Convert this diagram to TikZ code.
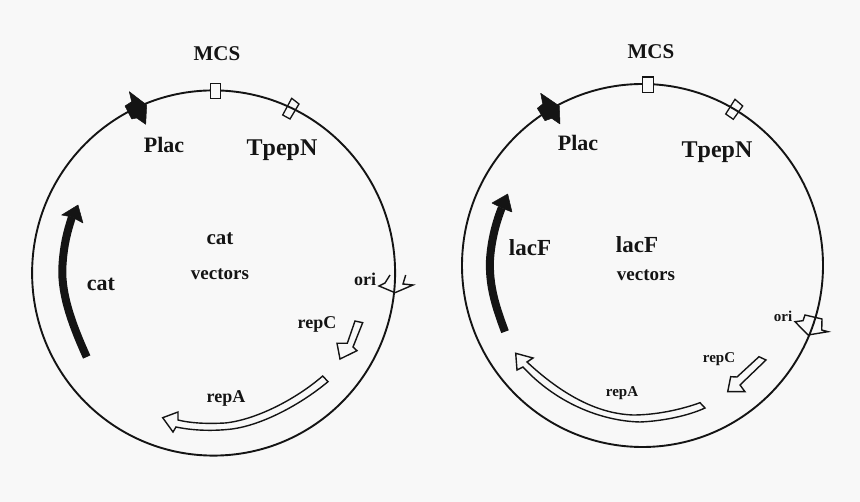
\documentclass[tikz,border=0pt]{standalone}
\usepackage{fontspec}
\setmainfont{Liberation Serif}
\definecolor{bgc}{HTML}{F8F8F8}
\definecolor{ink}{HTML}{141414}
\newcommand{\tfs}[1]{\fontsize{#1}{#1}\bfseries\selectfont}
\tikzset{
  ring/.style={draw=ink,line width=1.9pt},
  openarrow/.style={draw=ink,line width=1.4pt,fill=bgc,line join=miter},
  solidarc/.style={draw=ink,line width=8pt},
  solidhead/.style={fill=ink,draw=ink,line width=0.5pt,line join=round},
  site/.style={draw=ink,line width=1.3pt},
  lbl/.style={anchor=base,inner sep=0pt,text=ink},
}
\begin{document}
\begin{tikzpicture}[x=1pt,y=-1pt]
\fill[bgc] (0,0) rectangle (860,502);
\useasboundingbox (0,0) rectangle (860,502);

% ---------- left plasmid ----------
\draw[ring] (213.6,273) ellipse[x radius=181.5,y radius=182.6];
\draw[site,fill=bgc] (210.3,83.5) rectangle (220.7,98.3);
\draw[site] (291.7,98.3) -- (299,104) -- (290,119) -- (282.7,115) -- cycle;
\fill[solidhead] (129.3,91.7) -- (146.7,105) -- (145.7,124.3) -- (136.7,118) -- (131.7,119) -- (125,106) -- (131.7,101.7) -- cycle;
\draw[solidarc] (86.7,357) .. controls (70,320) and (60,290) .. (62.7,262) .. controls (64,245) and (67,232) .. (72,217);
\fill[solidhead] (78,205) -- (83,223) -- (72,217) -- (61.7,215) -- cycle;
\draw[openarrow] (322.7,376) .. controls (295,400) and (255,420) .. (225,423) .. controls (205,424) and (190,423) .. (178,420)
  -- (178,412) -- (162.7,417.7) -- (173,432) -- (176,427)
  .. controls (195,431) and (215,431) .. (232,429) .. controls (262,425) and (300,405) .. (328,381.7) -- cycle;
\draw[openarrow] (355,321) -- (362.7,322.7) -- (353,347) -- (357,350.7) -- (340,359) -- (337,343.3) -- (347.3,343.3) -- cycle;
\draw[openarrow,fill=none] (390,275) -- (385,283) -- (379,286) -- (395,292.7) -- (413,285) -- (403,284) -- (405.7,275);

\node[lbl,font=\tfs{21}] (mcsL) at (217,61) {MCS};
\node[lbl,font=\tfs{22}] (placL) at (164,153) {Plac};
\node[lbl,font=\tfs{24}] (tpepL) at (282,155.7) {TpepN};
\node[lbl,font=\tfs{21}] (catI) at (220,245) {cat};
\node[lbl,font=\tfs{19}] (vecL) at (220,280) {vectors};
\node[lbl,font=\tfs{22}] (catL) at (101,290.7) {cat};
\node[lbl,font=\tfs{18}] (oriL) at (365,286) {ori};
\node[lbl,font=\tfs{18}] (repCL) at (317,329) {repC};
\node[lbl,font=\tfs{18}] (repAL) at (226,402.7) {repA};

% ---------- right plasmid ----------
\draw[ring] (642.5,265.5) ellipse[x radius=180.5,y radius=181.5];
\draw[site,fill=bgc] (642.5,77) rectangle (653.3,92.3);
\draw[site] (735,99.3) -- (742.7,106) -- (733.3,119.3) -- (725.7,114) -- cycle;
\fill[solidhead] (540.7,93.3) -- (559.3,106) -- (560,124) -- (551.7,118.3) -- (545,120.7) -- (537.3,108.3) -- (542.7,104) -- cycle;
\draw[solidarc] (505,331.7) .. controls (495,305) and (489,285) .. (490,260) .. controls (491,243) and (495,225) .. (501.7,208);
\fill[solidhead] (507.7,194) -- (512,212) -- (501.7,208) -- (492,203) -- cycle;
\draw[openarrow] (700,402.7) .. controls (680,410) and (655,415) .. (633,415) .. controls (605,414) and (570,402) .. (527,362)
  -- (533,358) -- (515.7,353.3) -- (517,370) -- (523,367)
  .. controls (555,402) and (600,421) .. (640,422) .. controls (665,421) and (690,415) .. (705,408) -- cycle;
\draw[openarrow] (759,356.7) -- (766,360) -- (740,385) -- (745,391.7) -- (727.7,391.7) -- (730.7,376.7) -- (737,377) -- cycle;
\draw[openarrow,fill=none] (805,315) -- (803,320.7) -- (795,321.7) -- (808,335) -- (828,331.7) -- (821.7,330) -- (822,319) -- cycle;

\node[lbl,font=\tfs{21}] (mcsR) at (651,59) {MCS};
\node[lbl,font=\tfs{22}] (placR) at (578,150.7) {Plac};
\node[lbl,font=\tfs{24}] (tpepR) at (717,158) {TpepN};
\node[lbl,font=\tfs{23}] (lacI) at (637,253) {lacF};
\node[lbl,font=\tfs{19}] (vecR) at (646,281) {vectors};
\node[lbl,font=\tfs{23}] (lacL) at (530,256) {lacF};
\node[lbl,font=\tfs{15}] (oriR) at (783,321.7) {ori};
\node[lbl,font=\tfs{15}] (repCR) at (719,362.7) {repC};
\node[lbl,font=\tfs{15}] (repAR) at (622,397) {repA};
\end{tikzpicture}
\end{document}
